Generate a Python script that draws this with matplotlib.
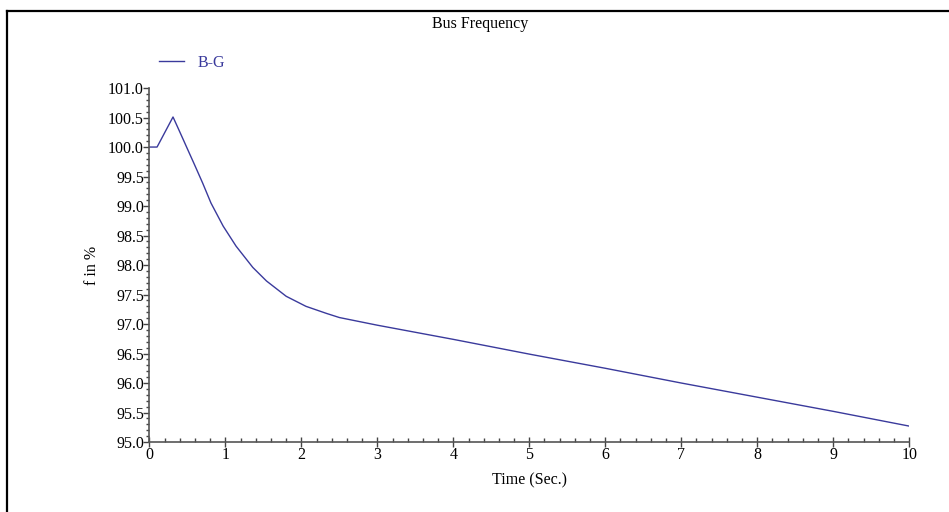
import matplotlib
matplotlib.use("Agg")
import matplotlib.pyplot as plt
from matplotlib.lines import Line2D
from matplotlib.ticker import MultipleLocator, FormatStrFormatter

plt.rcParams['font.family'] = ['Liberation Serif', 'DejaVu Serif']

# bus frequency trace, B-G
time_s = [0.0, 0.10, 0.31, 0.37, 0.44, 0.52, 0.59, 0.70, 0.81, 0.97, 1.14,
          1.36, 1.54, 1.80, 2.06, 2.33, 2.50, 3.0, 4.0, 5.0, 6.0, 7.0, 8.0,
          9.0, 10.0]
freq_pct = [100.0, 100.0, 100.51, 100.34, 100.14, 99.91, 99.71, 99.39, 99.05,
            98.66, 98.32, 97.96, 97.73, 97.47, 97.30, 97.18, 97.11, 96.98,
            96.74, 96.49, 96.25, 96.0, 95.76, 95.52, 95.27]

line_color = '#3a3a9c'
fs = 11.5

fig = plt.figure(figsize=(9.49, 5.12), dpi=100)
ax = fig.add_axes([0.1575, 0.1367, 0.8005, 0.6913])

ax.plot(time_s, freq_pct, color=line_color, lw=1.0, label='B-G')

ax.set_xlim(0, 10)
ax.set_ylim(95, 101)
ax.xaxis.set_major_locator(MultipleLocator(1))
ax.xaxis.set_minor_locator(MultipleLocator(0.2))
ax.yaxis.set_major_locator(MultipleLocator(0.5))
ax.yaxis.set_minor_locator(MultipleLocator(0.1))
ax.yaxis.set_major_formatter(FormatStrFormatter('%.1f'))

for side in ('top', 'right'):
    ax.spines[side].set_visible(False)
for side in ('left', 'bottom'):
    ax.spines[side].set_color('#555555')
    ax.spines[side].set_linewidth(1.2)

ax.tick_params(axis='y', which='major', direction='out', length=4, width=1,
               color='#444444', labelsize=fs, pad=0)
ax.tick_params(axis='y', which='minor', direction='out', length=2, width=1,
               color='#444444')
ax.tick_params(axis='x', which='major', direction='inout', length=7, width=1,
               color='#444444', labelsize=fs, pad=0)
ax.tick_params(axis='x', which='minor', direction='in', length=3, width=1,
               color='#444444')

ax.set_xlabel('Time (Sec.)', fontsize=fs, labelpad=7)
ax.set_ylabel('f in %', fontsize=fs, labelpad=6)
fig.text(0.506, 0.953, 'Bus Frequency', ha='center', va='center', fontsize=fs)

leg = ax.legend(loc='lower left', bbox_to_anchor=(0.004, 1.031), frameon=False,
                fontsize=fs, handlelength=1.6, handletextpad=0.8,
                borderaxespad=0)
for txt in leg.get_texts():
    txt.set_color(line_color)

# outer frame: left and top edges
fig.add_artist(Line2D([0.0075, 0.0075], [0.0, 0.9785], transform=fig.transFigure,
                      color='black', lw=1.6))
fig.add_artist(Line2D([0.0075, 1.0], [0.9785, 0.9785], transform=fig.transFigure,
                      color='black', lw=1.6))

fig.savefig('out.png', dpi=100)
